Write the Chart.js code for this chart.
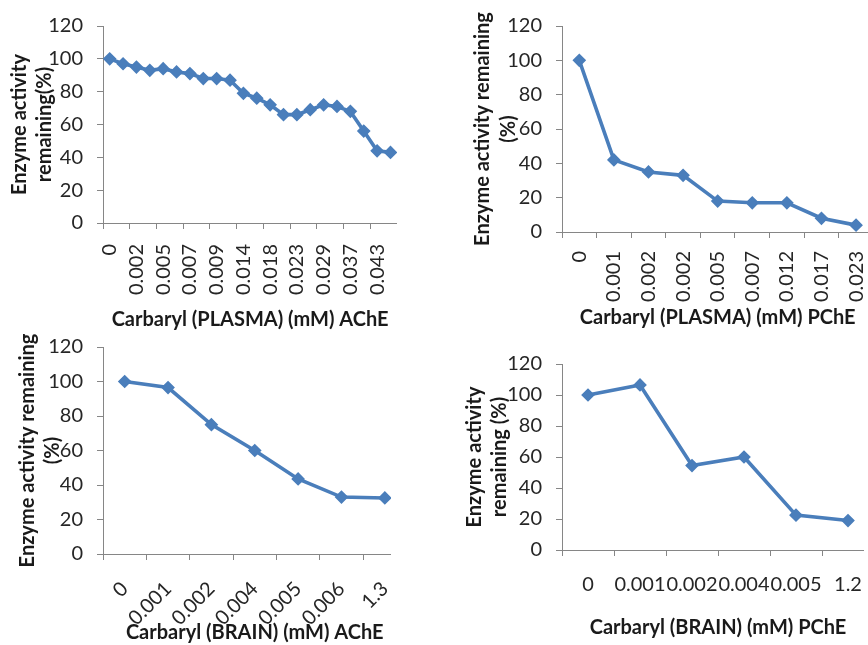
<!DOCTYPE html>
<html>
<head>
<meta charset="utf-8">
<script src="https://cdn.jsdelivr.net/npm/chart.js@4.4.1/dist/chart.umd.min.js"></script>
<style>
  html, body { margin: 0; padding: 0; background: #ffffff; overflow: hidden; width: 868px; height: 645px; }
  .clip { position: absolute; overflow: hidden; }
  .clip canvas { position: absolute; left: 0; top: 0; }
</style>
</head>
<body>
<div class="clip" id="box1" style="left:0px; top:0px; width:397px; height:340px;"><canvas id="c1"></canvas></div>
<div class="clip" id="box2" style="left:434px; top:0px; width:434px; height:340px;"><canvas id="c2"></canvas></div>
<div class="clip" id="box3" style="left:0px; top:315px; width:391px; height:330px;"><canvas id="c3"></canvas></div>
<div class="clip" id="box4" style="left:434px; top:315px; width:430px; height:330px;"><canvas id="c4"></canvas></div>
<script>
// ---------------- DATA ----------------
// Plasma AChE (every other category label is shown on the original axis)
const plasmaAChELabels = ["0", "", "0.002", "", "0.005", "", "0.007", "", "0.009", "", "0.014", "",
                          "0.018", "", "0.023", "", "0.029", "", "0.037", "", "0.043", ""];
const plasmaAChEValues = [100, 97, 95, 93, 94, 92, 91, 88, 88, 87, 79, 76,
                          72, 66, 66, 69, 72, 71, 68, 56, 44, 43];

const plasmaPChELabels = ["0", "0.001", "0.002", "0.002", "0.005", "0.007", "0.012", "0.017", "0.023"];
const plasmaPChEValues = [100, 42, 35, 33, 18, 17, 17, 8, 4];

const brainAChELabels = ["0", "0.001", "0.002", "0.004", "0.005", "0.006", "1.3"];
const brainAChEValues = [100, 96.5, 75, 60, 43.5, 33, 32.5];

const brainPChELabels = ["0", "0.001", "0.002", "0.004", "0.005", "1.2"];
const brainPChEValues = [100, 106.5, 54.5, 60, 22.5, 19];

const yTickValues = [0, 20, 40, 60, 80, 100, 120];

const xTitles = ["Carbaryl (PLASMA) (mM) AChE", "Carbaryl (PLASMA) (mM) PChE",
                 "Carbaryl (BRAIN) (mM) AChE", "Carbaryl (BRAIN) (mM) PChE"];
const yTitles = [["Enzyme activity", "remaining(%)"],
                 ["Enzyme activity remaining", "(%)"],
                 ["Enzyme activity remaining", "(%)"],
                 ["Enzyme activity", "remaining (%)"]];

// ---------------- STYLE ----------------
const LINE = '#4A7EBB';
const AXIS = '#868686';
const FONT = 'Lato, "Open Sans", sans-serif';

function makeChart(id, labels, values, yTitle, xTitle, L) {
  const cv = document.getElementById(id);
  cv.width = L.cw; cv.height = L.ch;
  cv.style.width = L.cw + 'px'; cv.style.height = L.ch + 'px';
  return new Chart(cv, {
    type: 'line',
    data: {
      labels: labels,
      datasets: [{
        data: values,
        borderColor: LINE,
        backgroundColor: LINE,
        borderWidth: 3.6,
        pointStyle: 'rectRot',
        pointRadius: 5.8,
        pointBorderWidth: 1.5,
        pointBackgroundColor: LINE,
        pointBorderColor: LINE,
        tension: 0,
        clip: false
      }]
    },
    options: {
      responsive: false,
      animation: false,
      devicePixelRatio: 1,
      events: [],
      layout: { padding: { left: 0, top: L.padTop, right: L.padRight, bottom: 0 } },
      plugins: { legend: { display: false }, tooltip: { enabled: false }, title: { display: false } },
      scales: {
        x: {
          type: 'category',
          offset: true,
          grid: {
            offset: true,
            drawOnChartArea: false,
            drawTicks: true,
            tickLength: 6,
            color: L.every2 ? (ctx => (ctx.index !== undefined && ctx.index % 2 === 0) ? AXIS : 'rgba(0,0,0,0)') : AXIS
          },
          border: { display: true, color: AXIS, width: 1 },
          ticks: {
            autoSkip: false,
            minRotation: L.rot, maxRotation: L.rot,
            padding: L.xPad,
            color: '#262626',
            font: { family: FONT, size: 20 }
          },
          title: {
            display: true,
            text: xTitle,
            color: '#1a1a1a',
            font: { family: FONT, size: 20, weight: 'bold', lineHeight: 1.2 },
            padding: { top: 0, bottom: L.xTitlePad }
          },
          afterFit: s => { s.height = L.xH; }
        },
        y: {
          min: 0, max: 120,
          afterBuildTicks: s => { s.ticks = yTickValues.map(v => ({ value: v })); },
          grid: { drawOnChartArea: false, drawTicks: true, tickLength: 6, color: AXIS },
          border: { display: true, color: AXIS, width: 1 },
          ticks: {
            padding: 14,
            color: '#262626',
            font: { family: FONT, size: 20 }
          },
          title: {
            display: true,
            text: yTitle,
            color: '#1a1a1a',
            font: { family: FONT, size: 20, weight: 'bold', lineHeight: 25.5 / 20 },
            padding: { top: L.yTitlePad, bottom: 0 }
          },
          afterFit: s => { s.width = L.yW; }
        }
      }
    }
  });
}

makeChart('c1', plasmaAChELabels, plasmaAChEValues, yTitles[0], xTitles[0],
  { cw: 430, ch: 340, padTop: 22, padRight: 23, xH: 117, yW: 103, rot: 90, xPad: 15, xTitlePad: 8, yTitlePad: 6.75, every2: true });
makeChart('c2', plasmaPChELabels, plasmaPChEValues, yTitles[1], xTitles[1],
  { cw: 460, ch: 340, padTop: 25, padRight: 17, xH: 108, yW: 128, rot: 90, xPad: 13, xTitlePad: 10, yTitlePad: 36.25, every2: false });
makeChart('c3', brainAChELabels, brainAChEValues, yTitles[2], xTitles[2],
  { cw: 430, ch: 330, padTop: 32, padRight: 23.5, xH: 91, yW: 103, rot: 45, xPad: 17, xTitlePad: 0, yTitlePad: 14.75, every2: false });
makeChart('c4', brainPChELabels, brainPChEValues, yTitles[3], xTitles[3],
  { cw: 460, ch: 330, padTop: 49, padRight: 20, xH: 95, yW: 128, rot: 0, xPad: 17, xTitlePad: 5, yTitlePad: 27.75, every2: false });
</script>
</body>
</html>
